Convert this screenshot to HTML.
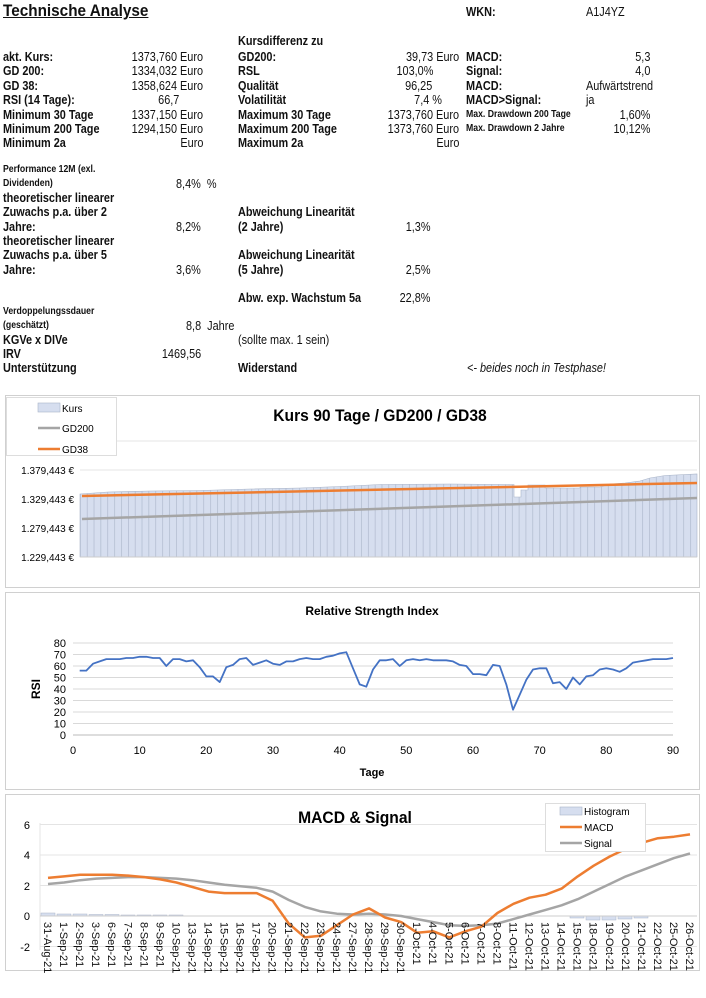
<!DOCTYPE html>
<html><head><meta charset="utf-8">
<style>
body{margin:0;width:706px;height:998px;background:#fff;font-family:"Liberation Sans",sans-serif;position:relative;overflow:hidden}
.t{position:absolute;white-space:nowrap;font-size:12.5px;font-weight:bold;color:#111;transform:scaleX(.87);transform-origin:0 50%;line-height:14px}
.n{font-weight:normal}
.s{font-size:10px}
.r{transform-origin:100% 50%;text-align:right}
svg{position:absolute;left:0;top:0}
</style></head><body>
<div class="t" style="left:3px;top:4px;font-size:17px;text-decoration:underline;transform:scaleX(.9)">Technische Analyse</div>
<div class="t" style="left:466px;top:5px">WKN:</div>
<div class="t n" style="left:586px;top:5px">A1J4YZ</div>
<div class="t" style="left:238px;top:34px">Kursdifferenz zu</div>

<div class="t" style="left:3px;top:50px">akt. Kurs:</div>
<div class="t" style="left:3px;top:64px">GD 200:</div>
<div class="t" style="left:3px;top:79px">GD 38:</div>
<div class="t" style="left:3px;top:93px">RSI (14 Tage):</div>
<div class="t" style="left:3px;top:108px">Minimum 30 Tage</div>
<div class="t" style="left:3px;top:122px">Minimum 200 Tage</div>
<div class="t" style="left:3px;top:136px">Minimum 2a</div>

<div class="t n r" style="right:503px;top:50px">1373,760 Euro</div>
<div class="t n r" style="right:503px;top:64px">1334,032 Euro</div>
<div class="t n r" style="right:503px;top:79px">1358,624 Euro</div>
<div class="t n r" style="right:527px;top:93px">66,7</div>
<div class="t n r" style="right:503px;top:108px">1337,150 Euro</div>
<div class="t n r" style="right:503px;top:122px">1294,150 Euro</div>
<div class="t n r" style="right:503px;top:136px">Euro</div>

<div class="t" style="left:238px;top:50px">GD200:</div>
<div class="t" style="left:238px;top:64px">RSL</div>
<div class="t" style="left:238px;top:79px">Qualität</div>
<div class="t" style="left:238px;top:93px">Volatilität</div>
<div class="t" style="left:238px;top:108px">Maximum 30 Tage</div>
<div class="t" style="left:238px;top:122px">Maximum 200 Tage</div>
<div class="t" style="left:238px;top:136px">Maximum 2a</div>

<div class="t n r" style="right:247px;top:50px">39,73 Euro</div>
<div class="t n r" style="right:273px;top:64px">103,0%</div>
<div class="t n r" style="right:274px;top:79px">96,25</div>
<div class="t n r" style="right:264px;top:93px">7,4 %</div>
<div class="t n r" style="right:247px;top:108px">1373,760 Euro</div>
<div class="t n r" style="right:247px;top:122px">1373,760 Euro</div>
<div class="t n r" style="right:247px;top:136px">Euro</div>

<div class="t" style="left:466px;top:50px">MACD:</div>
<div class="t" style="left:466px;top:64px">Signal:</div>
<div class="t" style="left:466px;top:79px">MACD:</div>
<div class="t" style="left:466px;top:93px">MACD&gt;Signal:</div>
<div class="t s" style="left:466px;top:108px">Max. Drawdown 200 Tage</div>
<div class="t s" style="left:466px;top:122px">Max. Drawdown 2 Jahre</div>
<div class="t n r" style="right:56px;top:50px">5,3</div>
<div class="t n r" style="right:56px;top:64px">4,0</div>
<div class="t n" style="left:586px;top:79px">Aufwärtstrend</div>
<div class="t n" style="left:586px;top:93px">ja</div>
<div class="t n r" style="right:56px;top:108px">1,60%</div>
<div class="t n r" style="right:56px;top:122px">10,12%</div>

<div class="t s" style="left:3px;top:163px">Performance 12M (exl.</div>
<div class="t s" style="left:3px;top:177px">Dividenden)</div>
<div class="t n" style="left:176px;top:177px">8,4% &nbsp;%</div>
<div class="t" style="left:3px;top:191px">theoretischer linearer</div>
<div class="t" style="left:3px;top:205px">Zuwachs p.a. über 2</div>
<div class="t" style="left:3px;top:220px">Jahre:</div>
<div class="t n" style="left:176px;top:220px">8,2%</div>
<div class="t" style="left:3px;top:234px">theoretischer linearer</div>
<div class="t" style="left:3px;top:248px">Zuwachs p.a. über 5</div>
<div class="t" style="left:3px;top:263px">Jahre:</div>
<div class="t n" style="left:176px;top:263px">3,6%</div>
<div class="t" style="left:238px;top:205px">Abweichung Linearität</div>
<div class="t" style="left:238px;top:220px">(2 Jahre)</div>
<div class="t n r" style="right:276px;top:220px">1,3%</div>
<div class="t" style="left:238px;top:248px">Abweichung Linearität</div>
<div class="t" style="left:238px;top:263px">(5 Jahre)</div>
<div class="t n r" style="right:276px;top:263px">2,5%</div>
<div class="t" style="left:238px;top:291px">Abw. exp. Wachstum 5a</div>
<div class="t n r" style="right:276px;top:291px">22,8%</div>
<div class="t s" style="left:3px;top:305px">Verdoppelungssdauer</div>
<div class="t s" style="left:3px;top:319px">(geschätzt)</div>
<div class="t n" style="left:186px;top:319px">8,8 &nbsp;Jahre</div>
<div class="t" style="left:3px;top:333px">KGVe x DIVe</div>
<div class="t n" style="left:238px;top:333px">(sollte max. 1 sein)</div>
<div class="t" style="left:3px;top:347px">IRV</div>
<div class="t n r" style="right:505px;top:347px">1469,56</div>
<div class="t" style="left:3px;top:361px">Unterstützung</div>
<div class="t" style="left:238px;top:361px">Widerstand</div>
<div class="t n" style="left:467px;top:361px;font-style:italic">&lt;- beides noch in Testphase!</div>

<svg width="706" height="998" style="top:0;left:0" font-family="Liberation Sans, sans-serif">
<defs>
<pattern id="pat" patternUnits="userSpaceOnUse" x="80" y="0" width="6.856" height="20">
<rect width="6.856" height="20" fill="#d6deef"/><line x1="0.3" x2="0.3" y1="0" y2="20" stroke="#a9b4c8" stroke-width="0.6"/>
</pattern>
</defs>
<rect x="5.5" y="395.5" width="694" height="192" fill="#fff" stroke="#d0d0d0"/>
<rect x="5.5" y="592.5" width="694" height="197" fill="#fff" stroke="#d0d0d0"/>
<rect x="5.5" y="794.5" width="694" height="176" fill="#fff" stroke="#d0d0d0"/>

<!-- Kurs chart -->
<g stroke="#e4e4e4"><line x1="80" x2="697" y1="441" y2="441"/><line x1="80" x2="697" y1="470" y2="470"/><line x1="80" x2="697" y1="499" y2="499"/><line x1="80" x2="697" y1="528" y2="528"/></g>
<path d="M80,557 L80,494 L94,493 L108,492 L150,491 L200,490.5 L250,489 L300,488 L340,486.5 L380,484.5 L450,484 L510,484.5 L514,484.5 L514,497 L521,497 L521,490 L528,490 L528,485 L545,485 L545,488 L580,488 L580,487 L600,487 L610,484 L625,483 L640,481 L650,478 L665,475.5 L697,474 L697,557 Z" fill="url(#pat)" stroke="#a9b4c8" stroke-width="0.6"/>
<line x1="80" x2="697" y1="557" y2="557" stroke="#ccc"/>
<line x1="82" y1="519" x2="697" y2="498" stroke="#a5a5a5" stroke-width="2.5"/>
<line x1="82" y1="496" x2="697" y2="483" stroke="#ed7d31" stroke-width="2.5"/>
<g font-size="10" text-anchor="end"><text x="74" y="474">1.379,443 €</text><text x="74" y="503">1.329,443 €</text><text x="74" y="532">1.279,443 €</text><text x="74" y="561">1.229,443 €</text></g>
<text x="380" y="421" font-size="17" font-weight="bold" text-anchor="middle" transform="translate(380 0) scale(.92 1) translate(-380 0)">Kurs 90 Tage / GD200 / GD38</text>
<rect x="6.5" y="397.5" width="110" height="58" fill="#fff" stroke="#ddd"/>
<rect x="38" y="403" width="22" height="9" fill="#d6deef" stroke="#a9b4c8" stroke-width=".6"/><text x="62" y="412" font-size="10">Kurs</text>
<line x1="38" x2="60" y1="428" y2="428" stroke="#a5a5a5" stroke-width="2.5"/><text x="62" y="432" font-size="10">GD200</text>
<line x1="38" x2="60" y1="449" y2="449" stroke="#ed7d31" stroke-width="2.5"/><text x="62" y="453" font-size="10">GD38</text>

<!-- RSI -->
<g stroke="#d9d9d9"><line x1="73" x2="673" y1="643" y2="643"/><line x1="73" x2="673" y1="654.5" y2="654.5"/><line x1="73" x2="673" y1="666" y2="666"/><line x1="73" x2="673" y1="677.5" y2="677.5"/><line x1="73" x2="673" y1="689" y2="689"/><line x1="73" x2="673" y1="700.5" y2="700.5"/><line x1="73" x2="673" y1="712" y2="712"/><line x1="73" x2="673" y1="723.5" y2="723.5"/></g>
<line x1="73" x2="673" y1="735" y2="735" stroke="#bbb"/>
<g font-size="11" text-anchor="end"><text x="66" y="647">80</text><text x="66" y="658.5">70</text><text x="66" y="670">60</text><text x="66" y="681.5">50</text><text x="66" y="693">40</text><text x="66" y="704.5">30</text><text x="66" y="716">20</text><text x="66" y="727.5">10</text><text x="66" y="739">0</text></g>
<g font-size="11" text-anchor="middle"><text x="73" y="754">0</text><text x="139.7" y="754">10</text><text x="206.3" y="754">20</text><text x="273" y="754">30</text><text x="339.7" y="754">40</text><text x="406.3" y="754">50</text><text x="473" y="754">60</text><text x="539.7" y="754">70</text><text x="606.3" y="754">80</text><text x="673" y="754">90</text></g>
<polyline fill="none" stroke="#4472c4" stroke-width="1.8" stroke-linejoin="round" points="79.7,670.6 86.3,670.6 93,663.7 99.7,661.4 106.3,659.1 113,659.1 119.7,659.1 126.3,658 133,658 139.7,656.8 146.3,656.8 153,658 159.7,658 166.3,666 173,659.1 179.7,659.1 186.3,661.4 193,660.3 199.7,667.2 206.3,676.4 213,676.4 219.7,682.1 226.3,667.2 233,664.9 239.7,659.1 246.3,658 253,664.9 259.7,662.6 266.3,660.3 273,663.7 279.7,664.9 286.3,661.4 293,661.4 299.7,659.1 306.3,658 313,659.1 319.7,659.1 326.3,656.8 333,655.7 339.7,653.4 346.3,652.2 353,668.3 359.7,684.4 366.3,686.7 373,669.5 379.7,660.3 386.3,660.3 393,659.1 399.7,666 406.3,660.3 413,659.1 419.7,660.3 426.3,659.1 433,660.3 439.7,660.3 446.3,660.3 453,661.4 459.7,664.9 466.3,666 473,674.1 479.7,674.1 486.3,675.2 493,664.9 499.7,666 506.3,684.4 513,709.7 519.7,694.8 526.3,679.8 533,669.5 539.7,668.3 546.3,668.3 553,683.3 559.7,682.1 566.3,689 573,677.5 579.7,684.4 586.3,676.4 593,675.2 599.7,669.5 606.3,668.3 613,669.5 619.7,671.8 626.3,668.3 633,662.6 639.7,661.4 646.3,660.3 653,659.1 659.7,659.1 666.3,659.1 673,658"/>
<text x="372" y="615" font-size="12" font-weight="bold" text-anchor="middle">Relative Strength Index</text>
<text x="372" y="776" font-size="11" font-weight="bold" text-anchor="middle">Tage</text>
<text x="36" y="689" font-size="12" font-weight="bold" text-anchor="middle" transform="rotate(-90 36 689)" dy="4">RSI</text>

<!-- MACD -->
<g stroke="#e4e4e4"><line x1="40" x2="697" y1="824.5" y2="824.5"/><line x1="40" x2="697" y1="855" y2="855"/><line x1="40" x2="697" y1="885.5" y2="885.5"/><line x1="40" x2="697" y1="946.5" y2="946.5"/><line x1="40" x2="40" y1="823" y2="950"/></g>
<g font-size="11" text-anchor="end"><text x="30" y="829">6</text><text x="30" y="859">4</text><text x="30" y="890">2</text><text x="30" y="920">0</text><text x="30" y="951">-2</text></g>
<g fill="#d6deef" stroke="#a9b4c8" stroke-width=".5">
<rect x="41" y="913" width="14" height="3"/><rect x="57" y="914" width="14" height="2"/><rect x="73" y="914" width="14" height="2"/><rect x="89" y="914.5" width="14" height="1.5"/><rect x="105" y="914.5" width="14" height="1.5"/><rect x="121" y="915" width="14" height="1"/><rect x="137" y="915" width="14" height="1"/><rect x="153" y="915" width="14" height="1"/><rect x="169" y="915" width="14" height="1"/>
<rect x="570" y="916" width="14" height="2"/><rect x="586" y="916" width="14" height="4"/><rect x="602" y="916" width="14" height="4"/><rect x="618" y="916" width="14" height="3"/><rect x="634" y="916" width="14" height="2"/>
</g>
<line x1="40" x2="697" y1="916" y2="916" stroke="#ccc"/>
<polyline fill="none" stroke="#a5a5a5" stroke-width="2.5" stroke-linejoin="round" points="48,884 64.1,882.5 80.1,880.2 96.2,878.6 112.2,877.9 128.3,877.1 144.3,877.1 160.4,877.9 176.4,878.6 192.5,880.2 208.5,882.5 224.6,884.7 240.6,886.3 256.7,887.8 272.7,891.6 288.8,900 304.8,906.9 320.9,911.4 336.9,913.7 353,914.5 369,913.7 385.1,914.5 401.1,916 417.2,919.1 433.2,922.1 449.3,925.2 465.3,925.9 481.4,925.2 497.4,923.6 513.5,919.1 529.5,914.5 545.6,909.9 561.6,905.3 577.7,899.2 593.7,891.6 609.8,884 625.8,876.4 641.9,870.3 657.9,864.2 674,858.1 690,853.5"/>
<polyline fill="none" stroke="#ed7d31" stroke-width="2.5" stroke-linejoin="round" points="48,877.9 64.1,876.4 80.1,874.8 96.2,874.8 112.2,874.8 128.3,875.6 144.3,877.1 160.4,879.4 176.4,882.5 192.5,887 208.5,891.6 224.6,893.1 240.6,893.1 256.7,893.1 272.7,900.8 288.8,923.6 304.8,937.4 320.9,935.8 336.9,925.2 353,914.5 369,908.4 385.1,917.5 401.1,922.1 417.2,932.8 433.2,931.3 449.3,937.4 465.3,931.3 481.4,926.7 497.4,913 513.5,903.8 529.5,897.7 545.6,894.7 561.6,888.6 577.7,876.4 593.7,865.7 609.8,856.5 625.8,848.9 641.9,842.8 657.9,838.2 674,836.7 690,834.4"/>
<g font-size="11" fill="#111">
<text transform="translate(48 922) rotate(90)" dy="4">31-Aug-21</text>
<text transform="translate(64.1 922) rotate(90)" dy="4">1-Sep-21</text>
<text transform="translate(80.1 922) rotate(90)" dy="4">2-Sep-21</text>
<text transform="translate(96.2 922) rotate(90)" dy="4">3-Sep-21</text>
<text transform="translate(112.2 922) rotate(90)" dy="4">6-Sep-21</text>
<text transform="translate(128.3 922) rotate(90)" dy="4">7-Sep-21</text>
<text transform="translate(144.3 922) rotate(90)" dy="4">8-Sep-21</text>
<text transform="translate(160.4 922) rotate(90)" dy="4">9-Sep-21</text>
<text transform="translate(176.4 922) rotate(90)" dy="4">10-Sep-21</text>
<text transform="translate(192.5 922) rotate(90)" dy="4">13-Sep-21</text>
<text transform="translate(208.5 922) rotate(90)" dy="4">14-Sep-21</text>
<text transform="translate(224.6 922) rotate(90)" dy="4">15-Sep-21</text>
<text transform="translate(240.6 922) rotate(90)" dy="4">16-Sep-21</text>
<text transform="translate(256.7 922) rotate(90)" dy="4">17-Sep-21</text>
<text transform="translate(272.7 922) rotate(90)" dy="4">20-Sep-21</text>
<text transform="translate(288.8 922) rotate(90)" dy="4">21-Sep-21</text>
<text transform="translate(304.8 922) rotate(90)" dy="4">22-Sep-21</text>
<text transform="translate(320.9 922) rotate(90)" dy="4">23-Sep-21</text>
<text transform="translate(336.9 922) rotate(90)" dy="4">24-Sep-21</text>
<text transform="translate(353 922) rotate(90)" dy="4">27-Sep-21</text>
<text transform="translate(369 922) rotate(90)" dy="4">28-Sep-21</text>
<text transform="translate(385.1 922) rotate(90)" dy="4">29-Sep-21</text>
<text transform="translate(401.1 922) rotate(90)" dy="4">30-Sep-21</text>
<text transform="translate(417.2 922) rotate(90)" dy="4">1-Oct-21</text>
<text transform="translate(433.2 922) rotate(90)" dy="4">4-Oct-21</text>
<text transform="translate(449.3 922) rotate(90)" dy="4">5-Oct-21</text>
<text transform="translate(465.3 922) rotate(90)" dy="4">6-Oct-21</text>
<text transform="translate(481.4 922) rotate(90)" dy="4">7-Oct-21</text>
<text transform="translate(497.4 922) rotate(90)" dy="4">8-Oct-21</text>
<text transform="translate(513.5 922) rotate(90)" dy="4">11-Oct-21</text>
<text transform="translate(529.5 922) rotate(90)" dy="4">12-Oct-21</text>
<text transform="translate(545.6 922) rotate(90)" dy="4">13-Oct-21</text>
<text transform="translate(561.6 922) rotate(90)" dy="4">14-Oct-21</text>
<text transform="translate(577.7 922) rotate(90)" dy="4">15-Oct-21</text>
<text transform="translate(593.7 922) rotate(90)" dy="4">18-Oct-21</text>
<text transform="translate(609.8 922) rotate(90)" dy="4">19-Oct-21</text>
<text transform="translate(625.8 922) rotate(90)" dy="4">20-Oct-21</text>
<text transform="translate(641.9 922) rotate(90)" dy="4">21-Oct-21</text>
<text transform="translate(657.9 922) rotate(90)" dy="4">22-Oct-21</text>
<text transform="translate(674 922) rotate(90)" dy="4">25-Oct-21</text>
<text transform="translate(690 922) rotate(90)" dy="4">26-Oct-21</text>
</g>
<text x="355" y="823" font-size="17" font-weight="bold" text-anchor="middle" transform="translate(355 0) scale(.92 1) translate(-355 0)">MACD &amp; Signal</text>
<rect x="545.5" y="803.5" width="100" height="48" fill="#fff" stroke="#ddd"/>
<rect x="560" y="807" width="22" height="8" fill="#d6deef" stroke="#a9b4c8" stroke-width=".6"/><text x="584" y="815" font-size="10">Histogram</text>
<line x1="560" x2="582" y1="827" y2="827" stroke="#ed7d31" stroke-width="2.5"/><text x="584" y="831" font-size="10">MACD</text>
<line x1="560" x2="582" y1="843" y2="843" stroke="#a5a5a5" stroke-width="2.5"/><text x="584" y="847" font-size="10">Signal</text>
</svg>
</body></html>
